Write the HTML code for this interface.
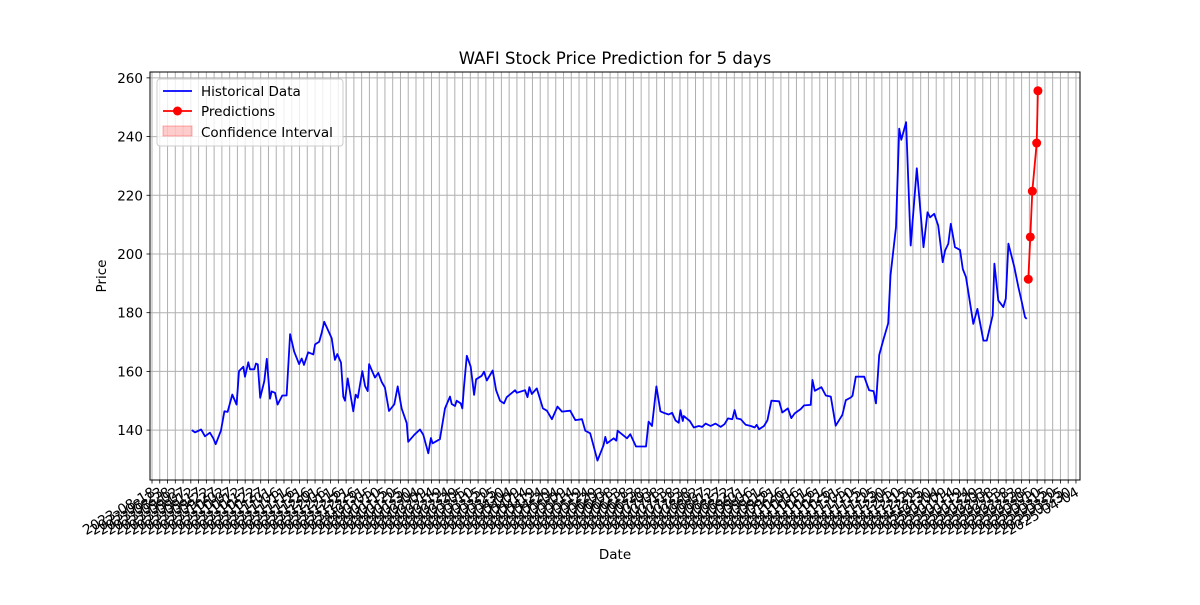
<!DOCTYPE html>
<html><head><meta charset="utf-8"><style>
body{margin:0;background:#fff}
svg text{font-family:"DejaVu Sans","Liberation Sans",sans-serif;fill:#000}
</style></head><body>
<svg id="chart" width="1200" height="600" xmlns="http://www.w3.org/2000/svg">
<rect width="1200" height="600" fill="#fff"/>
<g id="grid"></g>
<g id="ticks"></g>
<g id="series"></g>
<rect x="150" y="72" width="930" height="408" fill="none" stroke="#000" stroke-width="1"/>
<text x="615" y="64" text-anchor="middle" font-size="16.5">WAFI Stock Price Prediction for 5 days</text>
<text x="615" y="559" text-anchor="middle" font-size="13.5">Date</text>
<text transform="translate(106,276) rotate(-90)" text-anchor="middle" font-size="13.5">Price</text>
<g>
<rect x="157" y="79" width="186" height="67" rx="3" fill="#fff" fill-opacity="0.8" stroke="#ccc"/>
<g><line x1="163" y1="91" x2="192" y2="91" stroke="#00f" stroke-width="1.8"/><text x="201" y="96" font-size="13.5">Historical Data</text></g>
<g><line x1="163" y1="111" x2="192" y2="111" stroke="#f00" stroke-width="1.8"/><circle cx="177.5" cy="111" r="4.5" fill="#f00"/><text x="201" y="116" font-size="13.5">Predictions</text></g>
<g><rect x="163" y="126" width="29" height="10" fill="#f00" fill-opacity="0.2" stroke="#f00" stroke-opacity="0.3"/><text x="201" y="137" font-size="13.5">Confidence Interval</text></g>
</g>
</svg>
<script>
const histDays=[25.6,27.7,31.6,34.1,37.3,39.5,41.0,44.4,46.6,48.7,51.7,54.5,56.0,58.8,59.9,62.0,63.1,65.9,67.0,68.1,69.7,72.3,73.9,76.0,77.1,79.2,80.9,83.9,86.7,88.9,91.6,94.7,96.4,97.9,100.6,103.9,105.0,107.7,109.3,110.9,115.7,117.8,119.3,121.7,123.2,124.3,126.0,129.6,131.2,132.5,135.4,137.2,138.9,139.8,143.6,145.7,147.9,150.0,152.6,156.0,158.2,160.8,164.0,165.0,168.9,172.6,174.7,177.9,179.6,180.7,185.4,188.7,191.9,193.0,195.1,196.2,198.8,199.8,200.9,202.7,205.2,207.4,208.7,212.3,213.8,215.6,219.4,221.6,224.1,226.7,228.4,233.8,234.9,240.2,241.8,243.0,244.6,247.8,251.7,254.3,257.5,261.1,264.0,269.3,272.6,276.9,279.0,282.2,286.9,290.8,291.9,293.0,297.3,299.0,299.8,305.9,308.0,311.7,318.1,319.8,322.0,324.8,327.4,329.5,332.7,334.9,337.1,339.2,340.3,341.8,342.4,346.3,348.9,352.1,354.3,356.5,359.7,362.9,366.2,368.7,370.9,373.7,375.2,376.5,379.1,382.3,385.6,388.1,389.4,390.9,394.1,396.3,398.9,403.8,405.9,409.5,411.7,413.9,417.8,419.9,424.2,425.3,426.8,431.1,433.9,437.1,440.3,444.6,446.8,450.0,451.1,453.2,458.6,461.8,464.7,466.2,468.3,470.9,474.1,475.6,479.1,481.2,482.5,485.6,488.6,492.5,496.8,499.4,501.1,503.7,506.3,509.2,510.7,512.8,514.4,517.1,520.3,522.1,524.2,528.9,531.5,535.4,537.6,541.4,542.5,545.0,548.2,549.8,551.5,555.3,557.9,560.1,562.2,563.3];
const histPrices=[140,139.2,140.2,137.9,139.1,137.2,135.2,139.9,146.4,146.2,152.1,148.7,160.1,161.6,158.2,163.1,160.7,160.7,162.7,162.4,151.0,156.7,164.3,150.7,153.2,152.7,148.7,151.8,151.8,172.7,166.7,162.5,164.4,162.2,166.5,165.8,169.2,170.1,173.2,176.9,171.3,163.9,165.9,163.0,151.4,150.0,157.6,146.4,152.1,151.0,160.1,155.0,153.3,162.5,157.9,159.5,156.4,154.5,146.5,148.8,154.9,147.3,142.4,136.0,138.4,140.2,138.4,132.1,137.3,135.5,136.9,147.4,151.4,148.9,148.2,150.0,149.1,147.4,154.8,165.3,161.6,152.0,157.3,158.5,159.9,156.9,160.3,153.6,150.0,149.1,151.2,153.6,152.7,153.6,151.2,154.6,152.3,154.2,147.4,146.6,143.7,148.0,146.3,146.6,143.4,143.7,139.8,138.9,129.6,134.9,137.7,135.5,137.2,136.4,139.8,137.2,138.6,134.4,134.4,142.9,141.4,154.9,146.4,145.9,145.3,145.9,143.3,142.5,146.8,143.1,144.8,143.1,140.9,141.4,141.1,142.2,141.4,142.2,141.1,142.0,144.0,143.7,146.8,144.0,143.7,141.8,141.4,140.9,141.8,140.3,141.4,143.3,150.0,149.8,146.0,147.4,144.1,145.7,147.2,148.4,148.6,157.1,153.4,154.6,151.8,151.4,141.5,145.2,150.2,151.1,151.7,158.2,158.2,153.6,153.3,149.1,165.6,170.7,176.4,192.7,209.2,242.7,238.9,244.9,202.9,229.2,202.3,214.2,212.5,213.7,209.7,197.2,201.2,203.5,210.3,202.3,201.4,194.9,192.1,176.2,181.3,170.5,170.5,179.1,196.7,184.2,181.9,184.8,203.5,195.6,188.7,183.6,178.5,177.9];
const predDays=[564.3,565.6,566.9,569.7,570.5];
const predPrices=[191.4,205.8,221.4,237.8,255.6];
const yTicks=[140,160,180,200,220,240,260];
const tickStartDate='2023-08-18';
const tickStepDays=5;
const tickCount=120;

const NS='http://www.w3.org/2000/svg';
const X0=150,X1=1080,Y0=72,Y1=480;
const dMin=-1.29,dMax=597.6,vMin=123.0,vMax=262.0;
function sx(d){return X0+(d-dMin)/(dMax-dMin)*(X1-X0);}
function sy(v){return Y1-(v-vMin)/(vMax-vMin)*(Y1-Y0);}
function mk(tag,attrs,parent){const e=document.createElementNS(NS,tag);for(const k in attrs)e.setAttribute(k,attrs[k]);parent.appendChild(e);return e;}
const grid=document.getElementById('grid'),ticks=document.getElementById('ticks'),series=document.getElementById('series');
const base=new Date(tickStartDate+'T00:00:00Z');
for(let i=0;i<tickCount;i++){
  const d=i*tickStepDays;const x=sx(d);
  const g=mk('line',{x1:x,x2:x,y1:Y0,y2:Y1,stroke:'#b0b0b0','stroke-width':1},grid);
  
  
  const t=mk('line',{x1:x,x2:x,y1:Y1,y2:Y1+3.5,stroke:'#000','stroke-width':0.8},ticks);
  
  
  const dt=new Date(base.getTime()+d*86400000);
  const lbl=dt.toISOString().slice(0,10);
  const tx=mk('text',{x:0,y:0,'font-size':13.9,'text-anchor':'end',transform:`translate(${x+4},${Y1+15}) rotate(-30)`},ticks);
  tx.textContent=lbl;
  
  
}
yTicks.forEach(v=>{
  const y=sy(v);
  const g=mk('line',{x1:X0,x2:X1,y1:y,y2:y,stroke:'#b0b0b0','stroke-width':1},grid);
  
  
  const t=mk('line',{x1:X0-3.5,x2:X0,y1:y,y2:y,stroke:'#000','stroke-width':0.8},ticks);
  
  
  const tx=mk('text',{x:X0-7,y:y+5,'font-size':13.5,'text-anchor':'end'},ticks);
  tx.textContent=String(v);
  
  
});
const hp=histDays.map((d,i)=>sx(d).toFixed(1)+','+sy(histPrices[i]).toFixed(1)).join(' ');
const hl=mk('polyline',{points:hp,fill:'none',stroke:'#00f','stroke-width':1.8,'stroke-linejoin':'round'},series);


const pp=predDays.map((d,i)=>sx(d).toFixed(1)+','+sy(predPrices[i]).toFixed(1)).join(' ');
const pl=mk('polyline',{points:pp,fill:'none',stroke:'#f00','stroke-width':1.8},series);


predDays.forEach((d,i)=>{
  const c=mk('circle',{cx:sx(d),cy:sy(predPrices[i]),r:4.5,fill:'#f00'},series);
  
  
});
</script>
</body></html>
